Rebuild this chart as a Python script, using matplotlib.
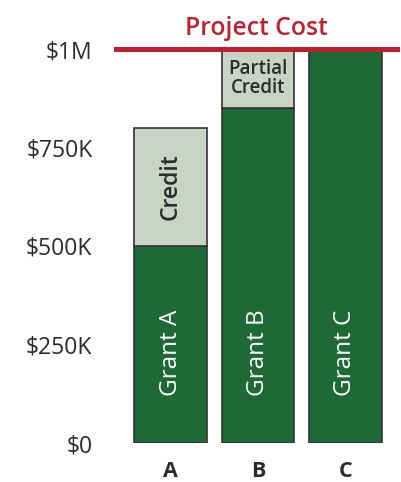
import matplotlib
matplotlib.use("Agg")
import matplotlib.pyplot as plt

categories = ["A", "B", "C"]
grant_values = [0.50, 0.85, 1.00]      # $M
credit_values = [0.30, 0.15, 0.00]     # $M
grant_labels = ["Grant A", "Grant B", "Grant C"]
credit_labels = ["Credit", "Partial\nCredit", ""]
project_cost = 1.0
ytick_values = [0, 0.25, 0.5, 0.75, 1.0]
ytick_labels = ["$0", "$250K", "$500K", "$750K", "$1M"]

GREEN = "#1d6a36"
LIGHT = "#c9d4c6"
EDGE = "#333333"
RED = "#c0202e"
TXT = "#2b2b2b"

plt.rcParams['font.family'] = ['Open Sans', 'DejaVu Sans']

fig = plt.figure(figsize=(4.02, 4.82), dpi=100)
ax = fig.add_axes([116/402, (482-443)/482, (397-116)/402, (443-49)/482])

x = list(range(len(categories)))
w = 0.834
ax.bar(x, grant_values, width=w, color=GREEN, edgecolor=EDGE, linewidth=1.2, zorder=2)
ax.bar(x, credit_values, width=w, bottom=grant_values, color=LIGHT, edgecolor=EDGE, linewidth=1.2, zorder=2)

ax.axhline(project_cost, color=RED, linewidth=3.6, zorder=3, clip_on=False)
ax.text(1.0 - 0.02, project_cost + 0.036, "Project Cost", color=RED, fontsize=17.8,
        fontweight='semibold', ha='center', va='baseline')

for i in x:
    ax.text(i, 0.23, grant_labels[i], rotation=90, color='white', fontsize=17.5,
            ha='center', va='center', zorder=4)
    if credit_values[i] > 0:
        if "\n" in credit_labels[i]:
            ax.text(i, grant_values[i] + credit_values[i] / 2, credit_labels[i], color=TXT,
                    fontsize=13.5, fontweight='semibold', ha='center', va='center',
                    linespacing=0.95, zorder=4)
        else:
            ax.text(i, grant_values[i] + credit_values[i] / 2, credit_labels[i], rotation=90,
                    color=TXT, fontsize=16.5, fontweight='semibold', ha='center', va='center', zorder=4)

ax.set_xlim(-0.623, 2.589)
ax.set_ylim(0, 1.0)
ax.set_yticks(ytick_values)
ax.set_yticklabels(ytick_labels)
ax.set_xticks(x)
ax.set_xticklabels(categories, fontweight='bold')
ax.tick_params(axis='y', length=0, pad=17, labelsize=16.5, labelcolor=TXT)
ax.tick_params(axis='x', length=0, pad=13, labelsize=15.5, labelcolor=TXT)
for s in ax.spines.values():
    s.set_visible(False)

fig.savefig("out.png", dpi=100)
